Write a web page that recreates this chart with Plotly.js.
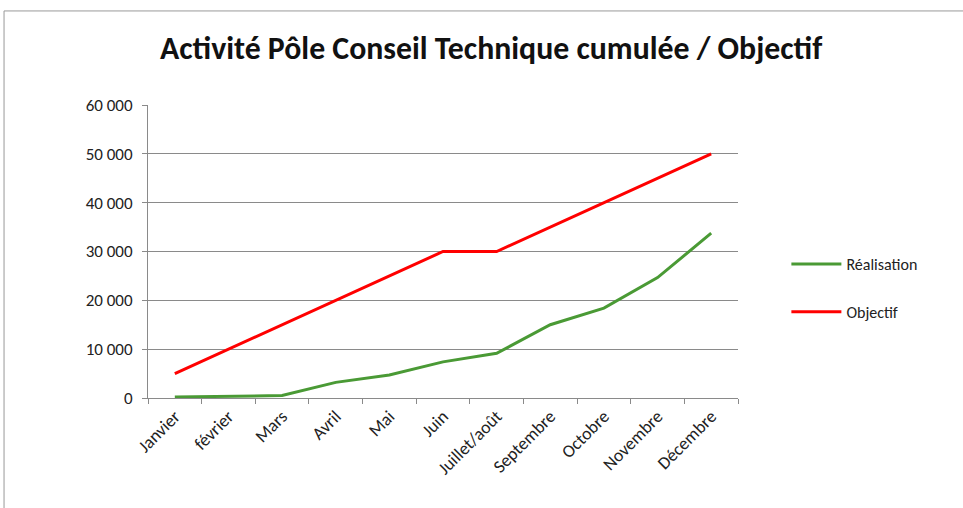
<!DOCTYPE html>
<html><head><meta charset="utf-8">
<script src="https://cdn.plot.ly/plotly-3.0.1.min.js"></script>
<style>html,body{margin:0;padding:0;background:#fff;}#c{width:963px;height:508px;}</style>
</head><body><div id="c"></div>
<script>
const months = ["Janvier","février","Mars","Avril","Mai","Juin","Juillet/août","Septembre","Octobre","Novembre","Décembre"];
const realisation = [200,300,500,3200,4700,7400,9150,15000,18400,24650,33750];
const objectif = [5000,10000,15000,20000,25000,30000,30000,35000,40000,45000,50000];
const yTicks = [0,10000,20000,30000,40000,50000,60000];

const font = "Calibri, Carlito, 'Open Sans', 'Liberation Sans', sans-serif";
const traces = [
  {x: months, y: realisation, name: "Réalisation", type: "scatter", mode: "lines", legendgroup: "a",
   line: {color: "#4a9a35", width: 3}},
  {x: months, y: objectif, name: "Objectif", type: "scatter", mode: "lines", legendgroup: "b",
   line: {color: "#ff0000", width: 3}}
];
const layout = {
  width: 963, height: 508,
  margin: {l: 148, r: 225, t: 105, b: 110},
  paper_bgcolor: "#fff", plot_bgcolor: "#fff",
  separators: ". ",
  font: {family: font, size: 16.5, color: "#222"},
  title: {text: "<b>Activité Pôle Conseil Technique cumulée / Objectif</b>",
          font: {family: font, size: 31.8, color: "#111"},
          xref: "container", x: 0.51, xanchor: "center", yref: "container", y: 0.905, yanchor: "middle"},
  xaxis: {type: "category", tickangle: -45, showgrid: false, showline: true, linecolor: "#8a8a8a",
          ticks: "outside", ticklen: 5, tickcolor: "#8a8a8a", tickson: "boundaries",
          tickfont: {family: font, size: 17.8, color: "#222"}, range: [-0.5, 10.5]},
  yaxis: {range: [0, 60000], tickvals: yTicks, tickformat: ",d", showgrid: true, gridcolor: "#8a8a8a",
          showline: true, linecolor: "#8a8a8a", ticks: "outside", ticklen: 5, tickcolor: "#8a8a8a",
          zeroline: false, tickfont: {family: font, size: 17, color: "#222"}, ticklabelstandoff: 6},
  legend: {x: 1.082, y: 0.375, xanchor: "left", yanchor: "middle", font: {family: font, size: 16, color: "#222"},
           tracegroupgap: 24, itemwidth: 50, bgcolor: "rgba(0,0,0,0)"},
  shapes: [
    {type: "line", xref: "paper", yref: "paper", x0: -0.244, x1: 1.5, y0: 1.321, y1: 1.321, line: {color: "#999", width: 1}},
    {type: "line", xref: "paper", yref: "paper", x0: -0.244, x1: -0.244, y0: 1.321, y1: -0.38, line: {color: "#999", width: 1}}
  ]
};
Plotly.newPlot("c", traces, layout, {displayModeBar: false, staticPlot: true});
</script></body></html>
